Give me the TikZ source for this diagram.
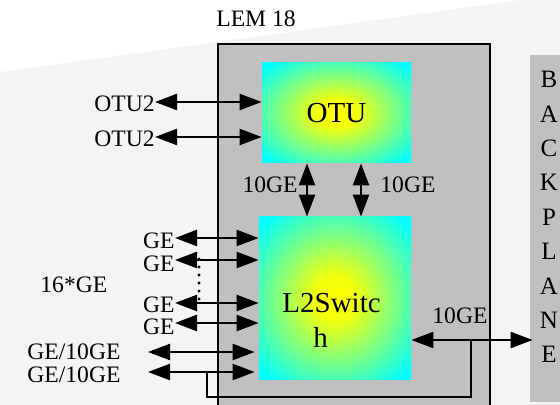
\documentclass[tikz,border=0pt]{standalone}
\usepackage{fontspec}
\setmainfont{Liberation Serif}
\usetikzlibrary{arrows.meta}
\definecolor{lemgray}{RGB}{192,192,192}
\definecolor{bggray}{RGB}{244,244,244}
\pgfdeclareradialshading{yc}{\pgfpointorigin}{color(0bp)=(yellow);color(7bp)=(yellow!95!cyan);color(33bp)=(cyan);color(100bp)=(cyan)}
\begin{document}
\begin{tikzpicture}[x=0.5pt,y=-0.5pt,
  every node/.style={inner sep=0pt, font=\fontsize{11.8}{14}\selectfont},
  big/.style={font=\fontsize{14.5}{17}\selectfont},
  bi/.style={line width=1.2pt, {Triangle[length=11pt,width=8pt]}-{Triangle[length=11pt,width=8pt]}},
  gradbox/.style={shade, shading=yc},
  dotline/.style={line width=1.6pt, line cap=round, dash pattern=on 0pt off 4pt}]
\useasboundingbox (0,0) rectangle (560,405);
% background
\fill[bggray] (0,0) rectangle (560,405);
\fill[white] (0,0) -- (520,0) -- (0,72) -- cycle;
% boxes
\node[draw=black, line width=0.9pt, fill=lemgray, minimum width=136pt, minimum height=184pt] (lem) at (354,228) {};
\node[fill=lemgray, minimum width=20pt, minimum height=173.5pt] (bp) at (550,228.5) {};
\node[gradbox, big, minimum width=74.5pt, minimum height=50pt] (otu) at (336.5,113) {OTU};
\node[gradbox, minimum width=76pt, minimum height=81pt] (l2) at (335,298) {};
\node[big, anchor=base west] (l2a) at (282,312) {L2Switc};
\node[big, anchor=base west] (l2b) at (313,347) {h};
% labels
\node[anchor=base west] (lemlbl) at (216,27) {LEM 18};
\node[anchor=east] (o2a) at (155,104) {OTU2};
\node[anchor=east] (o2b) at (155,139) {OTU2};
\node[anchor=base east] (v1) at (298,192) {10GE};
\node[anchor=base west] (v2) at (380,192) {10GE};
\node[anchor=east] (ge1) at (175,241) {GE};
\node[anchor=east] (ge2) at (175,264) {GE};
\node[anchor=east] (ge3) at (175,305) {GE};
\node[anchor=east] (ge4) at (175,327) {GE};
\node[anchor=base west] (g16) at (40,292) {16*GE};
\node[anchor=base west] (gx1) at (27,359) {GE/10GE};
\node[anchor=base west] (gx2) at (27,382) {GE/10GE};
\node[anchor=base west] (t10) at (432,323) {10GE};
\node[anchor=north, align=center, font=\fontsize{12.5}{17.2}\selectfont] (bpl) at (549,71) {B\\A\\C\\K\\P\\L\\A\\N\\E};
% coordinates
\coordinate (ga) at (148,352);
\coordinate (gb) at (148,372);
\coordinate (la) at (207,372);
\coordinate (lb) at (471,340);
\coordinate (d1) at (199,259);
\coordinate (d2) at (199,302);
% connectors
\draw[bi] ([yshift=1pt]o2a.east) -- ([yshift=1pt]o2a.east -| otu.west);
\draw[bi] ([yshift=1pt]o2b.east) -- ([yshift=1pt]o2b.east -| otu.west);
\draw[bi] ([xshift=-14.75pt]otu.south) -- ([xshift=-14.75pt]otu.south |- l2.north);
\draw[bi] ([xshift=12.25pt]otu.south) -- ([xshift=12.25pt]otu.south |- l2.north);
\draw[bi] ([yshift=1.5pt]ge1.east) -- ([yshift=1.5pt]ge1.east -| l2.west);
\draw[bi] ([yshift=2pt]ge2.east) -- ([yshift=2pt]ge2.east -| l2.west);
\draw[bi] ([yshift=1pt]ge3.east) -- ([yshift=1pt]ge3.east -| l2.west);
\draw[bi] ([yshift=2pt]ge4.east) -- ([yshift=2pt]ge4.east -| l2.west);
\draw[dotline] (d1) -- (d2);
\draw[bi] (ga) -- ([xshift=-2pt]ga -| l2.west);
\draw[bi] (gb) -- ([xshift=-2pt]gb -| l2.west);
\draw[line width=1pt] (la) -- ++(0,25) -| (lb);
\draw[bi] (l2.east |- lb) -- ([xshift=1.5pt]bp.west |- lb);
\end{tikzpicture}
\end{document}
